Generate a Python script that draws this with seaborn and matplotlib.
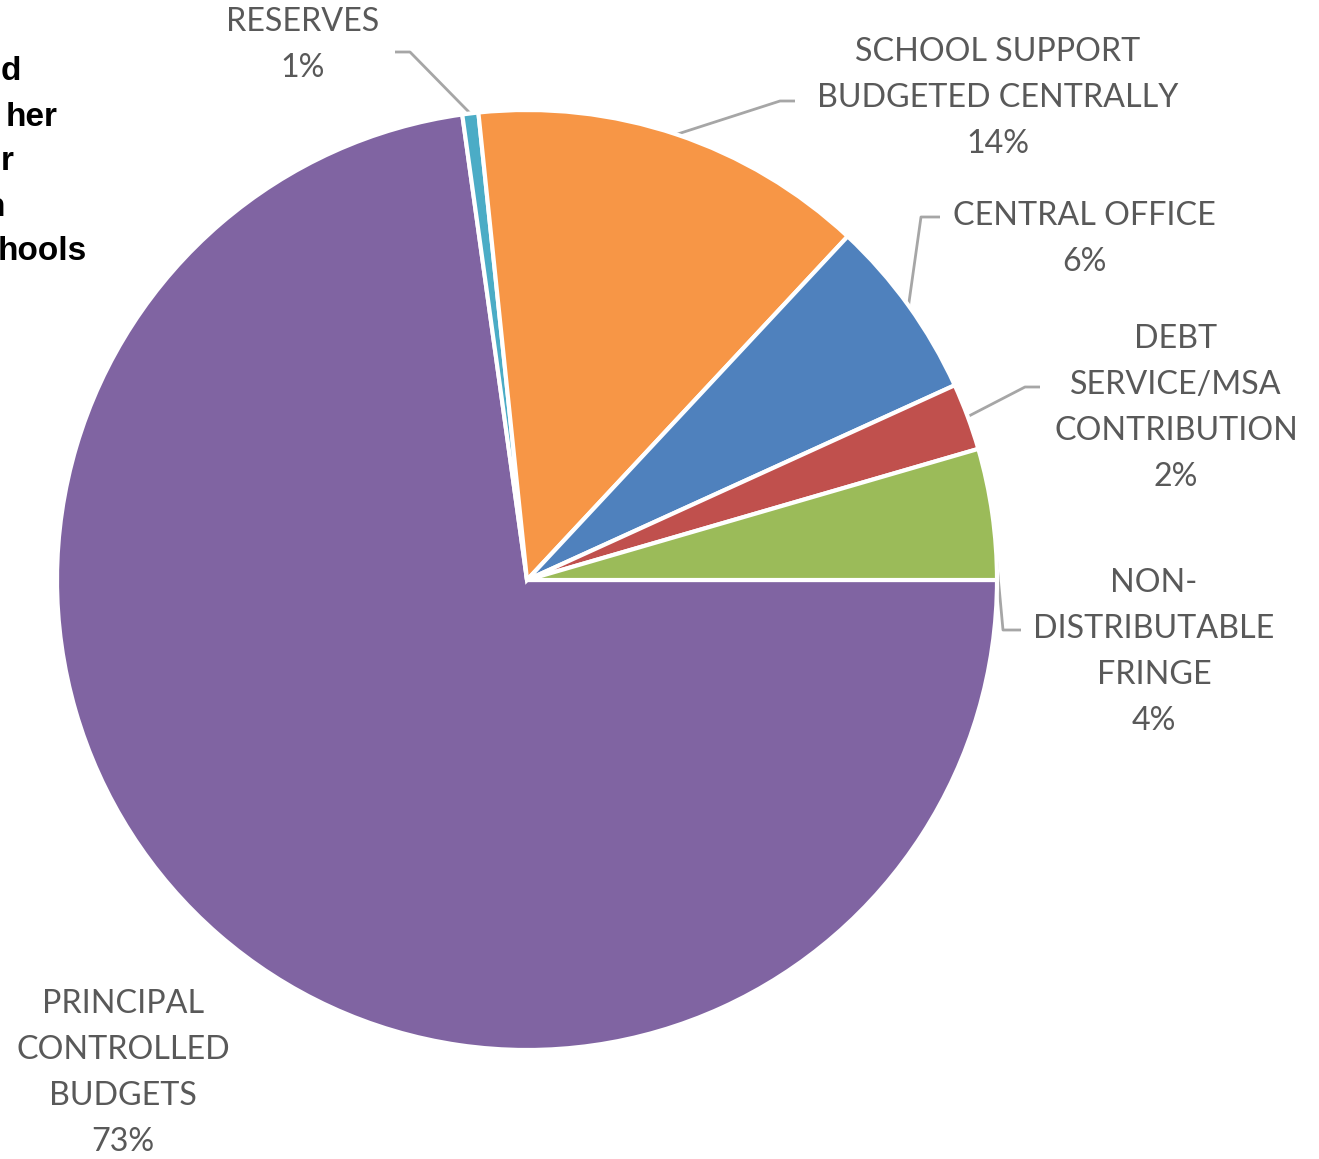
import numpy as np
import matplotlib
matplotlib.use("Agg")
import matplotlib.pyplot as plt
import seaborn as sns

# ---- data ----
categories = ["PRINCIPAL\nCONTROLLED\nBUDGETS", "RESERVES", "SCHOOL SUPPORT\nBUDGETED CENTRALLY",
              "CENTRAL OFFICE", "DEBT\nSERVICE/MSA\nCONTRIBUTION", "NON-\nDISTRIBUTABLE\nFRINGE"]
shares = [72.8, 0.55, 13.6, 6.25, 2.3, 4.5]
pct_labels = ["73%", "1%", "14%", "6%", "2%", "4%"]
colors = ["#8064A2", "#4BACC6", "#F79646", "#4F81BD", "#C0504D", "#9BBB59"]
side_fragments = ["d", "her", "r", "n", "hools"]

sns.set_theme(style="white")
plt.rcParams['font.family'] = ['Lato', 'DejaVu Sans']

W, H = 1319, 1159
fig = plt.figure(figsize=(W / 100, H / 100), dpi=100)
ax = fig.add_axes([0, 0, 1, 1])

def py(y):
    return H - y

cx, cy, R = 527, py(580), 470
wedges, _ = ax.pie(shares, colors=sns.color_palette(colors), startangle=0, counterclock=False,
                   center=(cx, cy), radius=R, frame=True,
                   wedgeprops=dict(edgecolor="white", linewidth=3))
ax.set_xlim(0, W)
ax.set_ylim(0, H)
ax.axis("off")

# label layout (pixel positions)
label_pos = [(123, 1004), (303, 22), (998, 52), (1084, 216), (1176, 339), (1154, 583)]
elbows = [None, [(410, 52), (395, 52)], [(780, 101), (795, 101)], [(921, 217), (940, 217)],
          [(1025, 387), (1040, 387)], [(1003, 630), (1021, 630)]]
line_h = 46
txt_color = "#595959"
for i, (lab, pct) in enumerate(zip(categories, pct_labels)):
    lines = lab.split("\n") + [pct]
    x0, y0 = label_pos[i]
    for k, t in enumerate(lines):
        ax.text(x0, py(y0 + k * line_h), t, ha="center", va="center",
                fontsize=23.2, color=txt_color)
    if elbows[i] is not None:
        w = wedges[i]
        ang = np.deg2rad((w.theta1 + w.theta2) / 2)
        sx, sy = cx + R * np.cos(ang), cy + R * np.sin(ang)
        xs = [sx] + [p[0] for p in elbows[i]]
        ys = [sy] + [py(p[1]) for p in elbows[i]]
        ax.plot(xs, ys, color="#A6A6A6", lw=2, solid_capstyle="butt", zorder=0.5)

# partially visible bold text at left edge
frag_right = [21, 58, 14, 5, 87]
for k, (t, xr) in enumerate(zip(side_fragments, frag_right)):
    ax.text(xr, py(72 + k * 45), t, ha="right", va="center", fontsize=24,
            fontweight="bold", color="black", family=["Liberation Sans", "DejaVu Sans"])

fig.savefig("out.png", dpi=100, facecolor="white")
